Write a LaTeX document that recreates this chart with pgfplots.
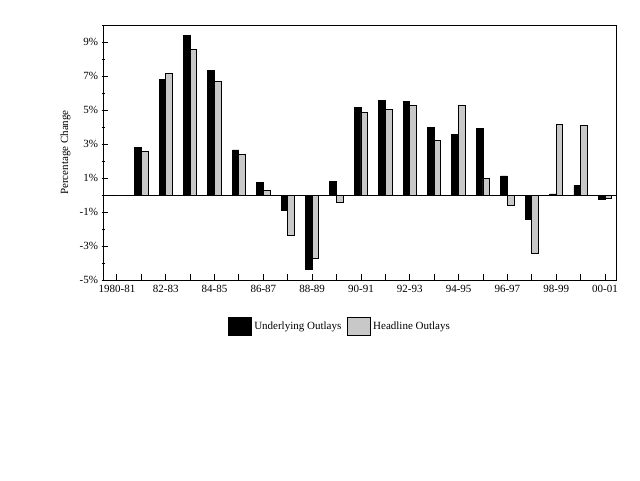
\documentclass[border=0pt]{standalone}
\usepackage{fontspec}
\setmainfont{Liberation Serif}
\usepackage{pgfplots}
\pgfplotsset{compat=1.18}
\definecolor{hgrey}{RGB}{200,200,200}
\pgfplotstableread{
x u h
0 0 0
1 2.77 2.58
2 6.78 7.14
3 9.40 8.55
4 7.32 6.67
5 2.65 2.36
6 0.71 0.29
7 -0.92 -2.40
8 -4.35 -3.74
9 0.77 -0.43
10 5.13 4.84
11 5.55 5.01
12 5.49 5.29
13 3.95 3.19
14 3.54 5.29
15 3.89 0.98
16 1.12 -0.61
17 -1.46 -3.44
18 0.06 4.17
19 0.55 4.11
20 -0.26 -0.22
}\data
\begin{document}
\begin{tikzpicture}[font=\fontsize{11}{13}\selectfont]
\useasboundingbox (0,0) rectangle (640pt,-480pt);
\begin{axis}[
  at={(103.5pt,-280pt)}, anchor=south west,
  scale only axis, width=512.5pt, height=255pt,
  xmin=-0.55, xmax=20.45, ymin=-5, ymax=10,
  axis line style={line width=0.9pt},
  xtick={0,...,20},
  xticklabels={1980-81,,82-83,,84-85,,86-87,,88-89,,90-91,,92-93,,94-95,,96-97,,98-99,,00-01},
  ytick={-5,-3,...,9},
  yticklabels={-5\%,-3\%,-1\%,1\%,3\%,5\%,7\%,9\%},
  minor ytick={-4,-2,...,10},
  tick align=inside,
  major tick length=6pt, minor tick length=3pt,
  y tick style={xshift=-2pt},
  tick style={black, line width=0.9pt},
  xtick pos=bottom, ytick pos=left,
  yticklabel style={xshift=-2pt},
  xticklabel style={yshift=-2pt},
  ylabel={Percentage Change},
  every axis y label/.style={at={(axis description cs:-0.074,0.5)}, rotate=90, anchor=center},
  legend style={draw=none, at={(axis description cs:0.4617,-0.183)}, anchor=center,
    /tikz/every even column/.append style={column sep=4pt}},
  legend columns=2,
  legend image code/.code={\draw[#1, line width=0.9pt] (0pt,-9pt) rectangle (23pt,9pt);},
]
\draw[line width=0.9pt] ({rel axis cs:0,0}|-{axis cs:0,0}) -- ({rel axis cs:1,0}|-{axis cs:0,0});
\addplot[ybar, bar width=0.273, bar shift=-0.1365, fill=black, draw=black, line width=0.9pt] table[x=x,y=u]{\data};
\addlegendentry{Underlying Outlays}
\addplot[ybar, bar width=0.273, bar shift=0.1365, fill=hgrey, draw=black, line width=0.9pt] table[x=x,y=h]{\data};
\addlegendentry{Headline Outlays}
\end{axis}
\end{tikzpicture}
\end{document}
